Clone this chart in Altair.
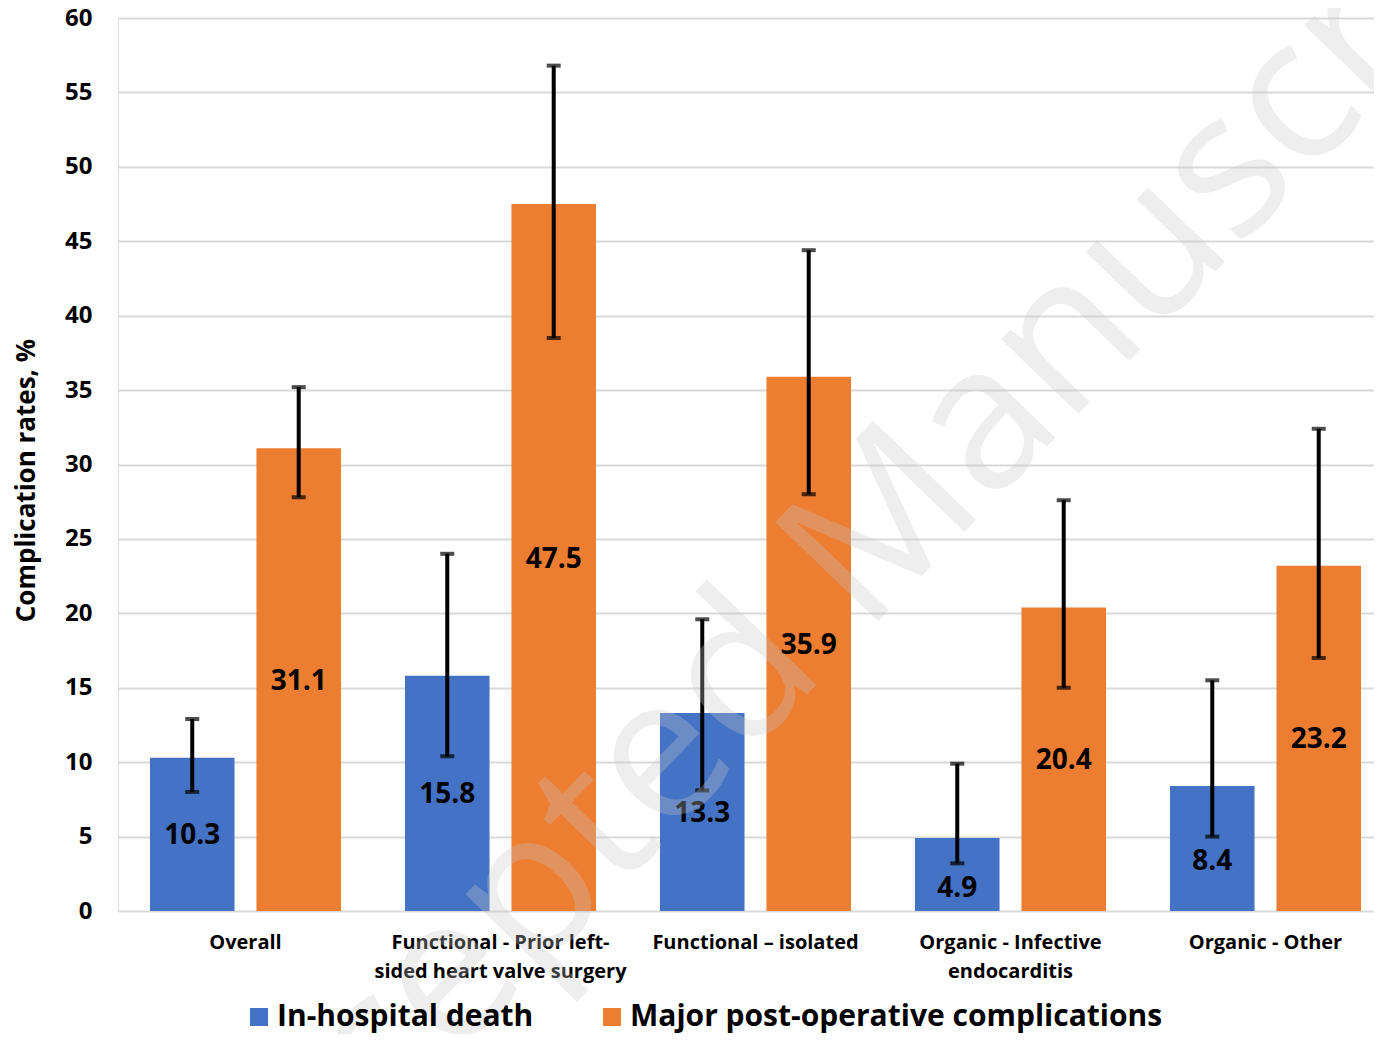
import altair as alt
import pandas as pd

categories = [
    "Overall",
    "Functional - Prior left-|sided heart valve surgery",
    "Functional \u2013 isolated",
    "Organic - Infective|endocarditis",
    "Organic - Other",
]
series = ["In-hospital death", "Major post-operative complications"]
colors = ["#4472C4", "#ED7D31"]

death = [10.3, 15.8, 13.3, 4.9, 8.4]
death_lo = [8.0, 10.4, 8.1, 3.2, 5.0]
death_hi = [12.9, 24.0, 19.6, 9.9, 15.5]

major = [31.1, 47.5, 35.9, 20.4, 23.2]
major_lo = [27.8, 38.5, 28.0, 15.0, 17.0]
major_hi = [35.2, 56.8, 44.4, 27.6, 32.4]

rows = []
for i, c in enumerate(categories):
    rows.append({"category": c, "series": series[0], "value": death[i], "lo": death_lo[i], "hi": death_hi[i]})
    rows.append({"category": c, "series": series[1], "value": major[i], "lo": major_lo[i], "hi": major_hi[i]})
df = pd.DataFrame(rows)

FONT = "Open Sans"

x = alt.X(
    "category:N",
    sort=categories,
    scale=alt.Scale(paddingInner=0.251, paddingOuter=0.0882, align=0.711),
    axis=alt.Axis(
        title=None,
        labelExpr="split(datum.label, '|')",
        labelFont=FONT,
        labelFontSize=20,
        labelFontWeight="bold",
        labelColor="black",
        labelPadding=21,
        labelLineHeight=29,
        labelAngle=0,
        labelLimit=400,
        domain=False,
        ticks=False,
        grid=False,
    ),
)
xo = alt.XOffset("series:N", sort=series, scale=alt.Scale(paddingInner=0.206))

yaxis = alt.Axis(
    values=list(range(0, 61, 5)),
    title="Complication rates, %",
    titleFont=FONT,
    titleFontSize=26,
    titleFontWeight="bold",
    titleColor="black",
    titlePadding=25,
    titleY=462,
    labelFont=FONT,
    labelFontSize=24,
    labelFontWeight="bold",
    labelColor="black",
    labelPadding=26,
    domain=False,
    ticks=False,
    gridColor="#d9d9d9",
    gridWidth=2,
)

base = alt.Chart(df)

bars = base.mark_bar().encode(
    x=x,
    xOffset=xo,
    y=alt.Y("value:Q", scale=alt.Scale(domain=[0, 60]), axis=yaxis),
    color=alt.Color(
        "series:N",
        sort=series,
        scale=alt.Scale(domain=series, range=colors),
        legend=alt.Legend(
            title=None,
            orient="none",
            legendX=126,
            legendY=984,
            direction="horizontal",
            symbolType="square",
            symbolSize=324,
            symbolStrokeWidth=0,
            labelFont=FONT,
            labelFontSize=30,
            labelFontWeight="bold",
            labelColor="black",
            labelOffset=3,
            labelLimit=1000,
            columnPadding=63,
        ),
    ),
)

# value labels sit mid-bar, nudged below the error bar when they would collide
labels = base.transform_calculate(
    mid="(datum.lo - datum.value / 2) < 1 ? datum.lo - 1.6 : datum.value / 2"
).mark_text(
    font=FONT, fontSize=28, fontWeight="bold", color="black", baseline="middle", dy=2
).encode(
    x=x,
    xOffset=xo,
    y=alt.Y("mid:Q"),
    text=alt.Text("value:Q", format=".1f"),
)

err = base.mark_rule(color="black", strokeWidth=4).encode(
    x=x, xOffset=xo, y=alt.Y("lo:Q"), y2="hi:Q"
)
cap_lo = base.mark_tick(color="black", orient="horizontal", size=14, thickness=4).encode(
    x=x, xOffset=xo, y=alt.Y("lo:Q")
)
cap_hi = base.mark_tick(color="black", orient="horizontal", size=14, thickness=4).encode(
    x=x, xOffset=xo, y=alt.Y("hi:Q")
)

wm = alt.Chart(pd.DataFrame({"t": ["Accepted Manuscript"]})).mark_text(
    font="Open Sans",
    fontSize=200,
    color="#c8c8c8",
    opacity=0.3,
    angle=314,
    align="center",
    baseline="alphabetic",
).encode(x=alt.value(796), y=alt.value(566), text="t:N")

chart = (
    alt.layer(bars, labels, err, cap_lo, cap_hi, wm)
    .properties(
        width=1256,
        height=893,
        autosize=alt.AutoSizeParams(type="none"),
        padding={"left": 110, "top": 10, "right": 0, "bottom": 123},
    )
    .configure_view(stroke=None)
    .configure(background="white")
)

chart.save("out.html", embed_options={"renderer": "svg", "actions": False})
